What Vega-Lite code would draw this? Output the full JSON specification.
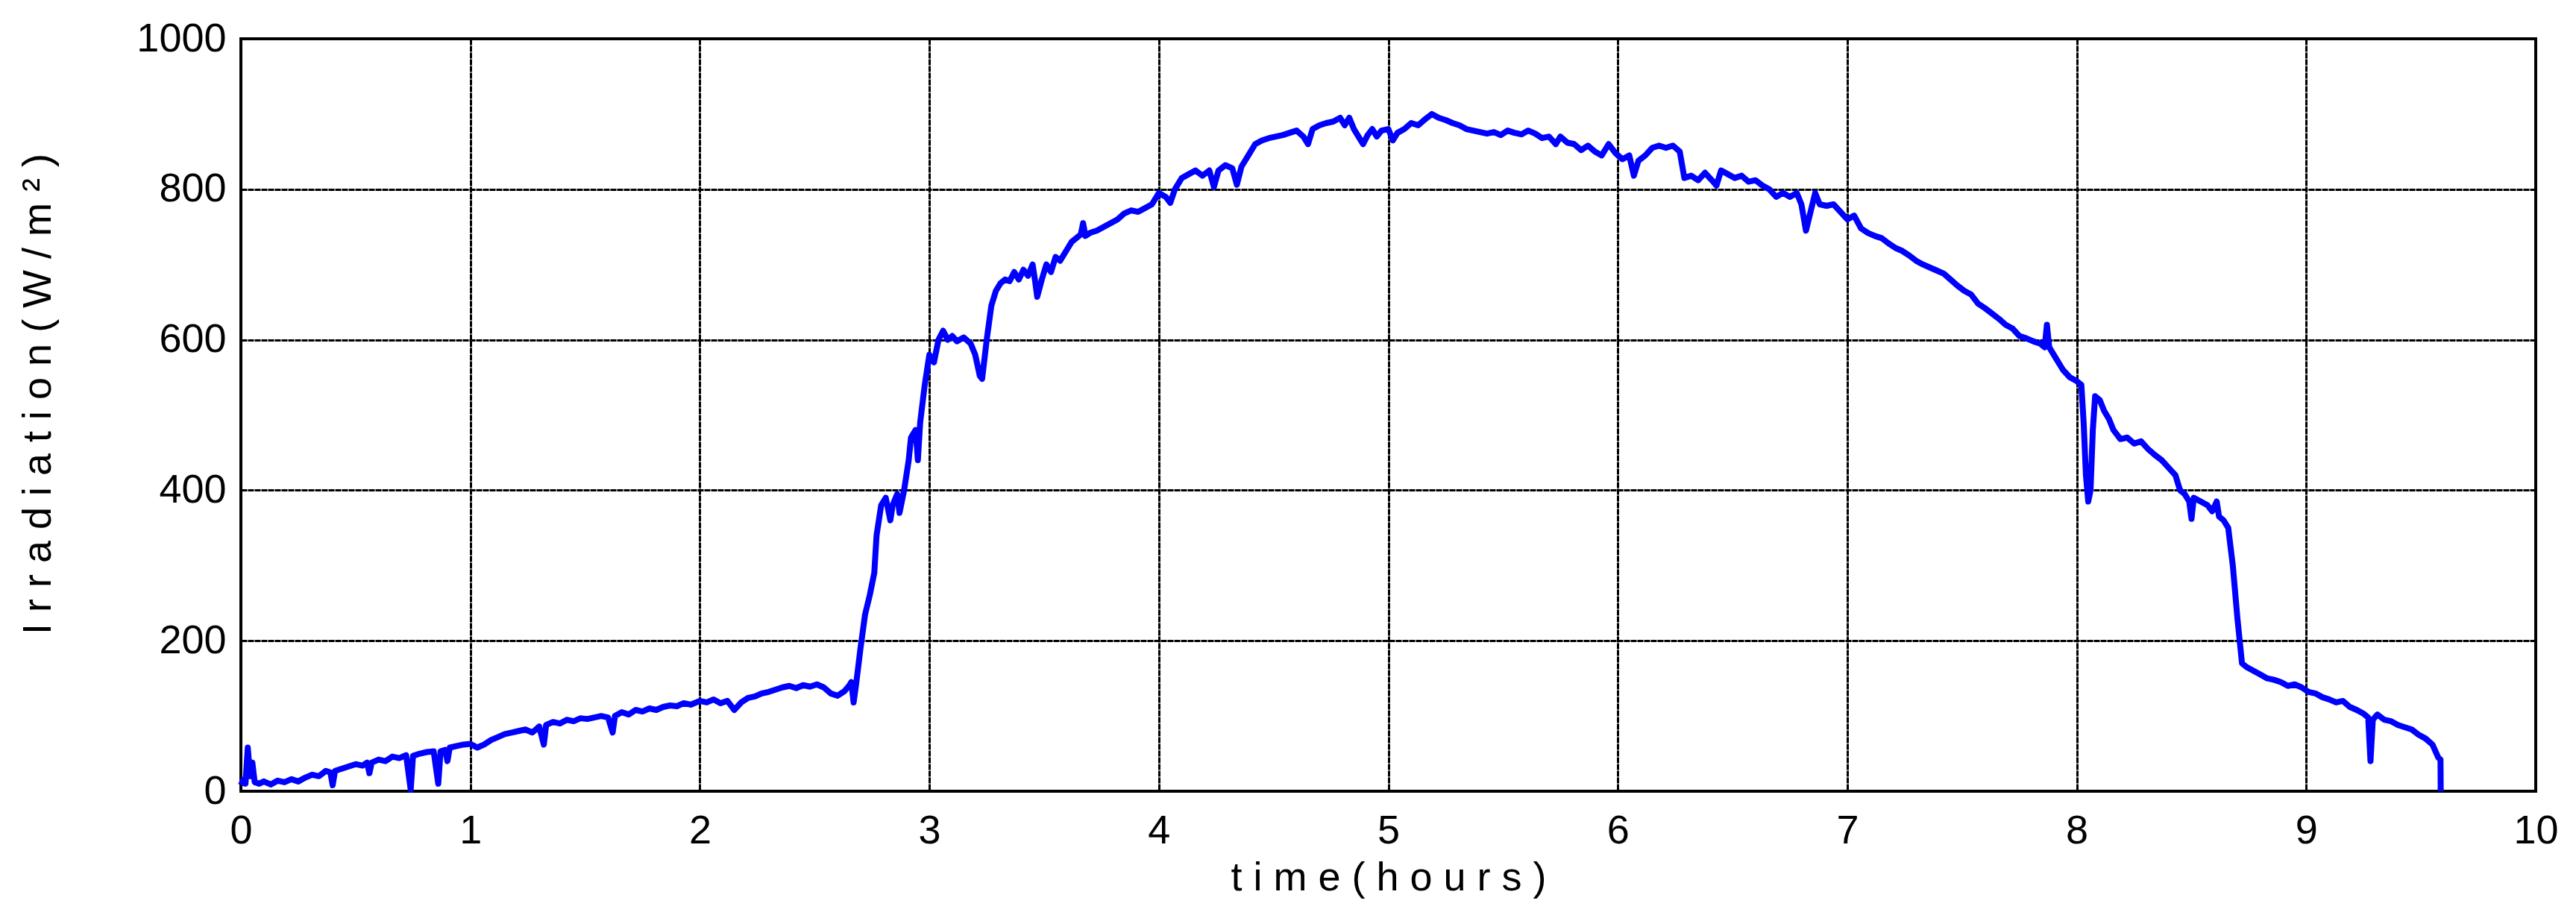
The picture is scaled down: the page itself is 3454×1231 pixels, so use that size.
{
  "$schema": "https://vega.github.io/schema/vega-lite/v6.json",
  "width": 3077,
  "height": 1009,
  "autosize": {"type": "none"},
  "padding": {"left": 323, "top": 52, "right": 54, "bottom": 170},
  "background": "white",
  "config": {
    "view": {"stroke": "black", "strokeWidth": 4},
    "font": "Liberation Sans"
  },
  "data": {
    "values": [
      {"t": 0.00, "v": 8}, {"t": 0.01, "v": 15}, {"t": 0.02, "v": 10}, {"t": 0.03, "v": 58}, {"t": 0.04, "v": 20},
      {"t": 0.05, "v": 38}, {"t": 0.06, "v": 12}, {"t": 0.08, "v": 10}, {"t": 0.10, "v": 13}, {"t": 0.13, "v": 9},
      {"t": 0.16, "v": 14}, {"t": 0.19, "v": 12}, {"t": 0.22, "v": 16}, {"t": 0.25, "v": 13}, {"t": 0.28, "v": 18},
      {"t": 0.31, "v": 22}, {"t": 0.34, "v": 20}, {"t": 0.37, "v": 27}, {"t": 0.39, "v": 25}, {"t": 0.40, "v": 8},
      {"t": 0.41, "v": 27}, {"t": 0.44, "v": 30}, {"t": 0.47, "v": 33}, {"t": 0.50, "v": 36}, {"t": 0.53, "v": 34},
      {"t": 0.55, "v": 38}, {"t": 0.56, "v": 24}, {"t": 0.57, "v": 38}, {"t": 0.60, "v": 42}, {"t": 0.63, "v": 40},
      {"t": 0.66, "v": 46}, {"t": 0.69, "v": 44}, {"t": 0.72, "v": 48}, {"t": 0.74, "v": 2}, {"t": 0.75, "v": 47},
      {"t": 0.78, "v": 50}, {"t": 0.81, "v": 52}, {"t": 0.84, "v": 53}, {"t": 0.86, "v": 10}, {"t": 0.87, "v": 53},
      {"t": 0.89, "v": 55}, {"t": 0.90, "v": 40}, {"t": 0.91, "v": 58}, {"t": 0.94, "v": 60}, {"t": 0.97, "v": 62},
      {"t": 1.00, "v": 63}, {"t": 1.03, "v": 58}, {"t": 1.06, "v": 62}, {"t": 1.09, "v": 68}, {"t": 1.12, "v": 72},
      {"t": 1.15, "v": 76}, {"t": 1.18, "v": 78}, {"t": 1.21, "v": 80}, {"t": 1.24, "v": 82}, {"t": 1.27, "v": 78},
      {"t": 1.30, "v": 86}, {"t": 1.32, "v": 62}, {"t": 1.33, "v": 88}, {"t": 1.36, "v": 92}, {"t": 1.39, "v": 90},
      {"t": 1.42, "v": 95}, {"t": 1.45, "v": 93}, {"t": 1.48, "v": 97}, {"t": 1.51, "v": 96}, {"t": 1.54, "v": 98},
      {"t": 1.57, "v": 100}, {"t": 1.60, "v": 98}, {"t": 1.62, "v": 78}, {"t": 1.63, "v": 100}, {"t": 1.66, "v": 105},
      {"t": 1.69, "v": 102}, {"t": 1.72, "v": 108}, {"t": 1.75, "v": 106}, {"t": 1.78, "v": 110}, {"t": 1.81, "v": 108},
      {"t": 1.84, "v": 112}, {"t": 1.87, "v": 114}, {"t": 1.90, "v": 113}, {"t": 1.93, "v": 117}, {"t": 1.96, "v": 115},
      {"t": 2.00, "v": 120}, {"t": 2.03, "v": 118}, {"t": 2.06, "v": 122}, {"t": 2.09, "v": 117}, {"t": 2.12, "v": 120},
      {"t": 2.15, "v": 108}, {"t": 2.18, "v": 118}, {"t": 2.21, "v": 124}, {"t": 2.24, "v": 126}, {"t": 2.27, "v": 130},
      {"t": 2.30, "v": 132}, {"t": 2.33, "v": 135}, {"t": 2.36, "v": 138}, {"t": 2.39, "v": 140}, {"t": 2.42, "v": 137},
      {"t": 2.45, "v": 141}, {"t": 2.48, "v": 139}, {"t": 2.51, "v": 142}, {"t": 2.54, "v": 138}, {"t": 2.57, "v": 130},
      {"t": 2.60, "v": 127}, {"t": 2.63, "v": 133}, {"t": 2.65, "v": 140}, {"t": 2.66, "v": 145}, {"t": 2.67, "v": 118},
      {"t": 2.68, "v": 140}, {"t": 2.70, "v": 190}, {"t": 2.72, "v": 235}, {"t": 2.74, "v": 260}, {"t": 2.76, "v": 290},
      {"t": 2.77, "v": 340}, {"t": 2.79, "v": 380}, {"t": 2.81, "v": 390}, {"t": 2.83, "v": 360}, {"t": 2.84, "v": 380},
      {"t": 2.86, "v": 395}, {"t": 2.87, "v": 370}, {"t": 2.89, "v": 400}, {"t": 2.91, "v": 440}, {"t": 2.92, "v": 470},
      {"t": 2.94, "v": 480}, {"t": 2.95, "v": 440}, {"t": 2.96, "v": 490}, {"t": 2.98, "v": 540}, {"t": 3.00, "v": 580},
      {"t": 3.02, "v": 570}, {"t": 3.04, "v": 600}, {"t": 3.06, "v": 612}, {"t": 3.08, "v": 600}, {"t": 3.10, "v": 605},
      {"t": 3.12, "v": 598}, {"t": 3.15, "v": 603}, {"t": 3.18, "v": 595}, {"t": 3.20, "v": 580}, {"t": 3.22, "v": 552},
      {"t": 3.23, "v": 548}, {"t": 3.25, "v": 600}, {"t": 3.27, "v": 645}, {"t": 3.29, "v": 665}, {"t": 3.31, "v": 675},
      {"t": 3.33, "v": 680}, {"t": 3.35, "v": 678}, {"t": 3.37, "v": 690}, {"t": 3.39, "v": 680}, {"t": 3.41, "v": 693},
      {"t": 3.43, "v": 685}, {"t": 3.45, "v": 700}, {"t": 3.46, "v": 680}, {"t": 3.47, "v": 657}, {"t": 3.49, "v": 680},
      {"t": 3.51, "v": 700}, {"t": 3.53, "v": 690}, {"t": 3.55, "v": 710}, {"t": 3.57, "v": 705}, {"t": 3.60, "v": 720},
      {"t": 3.62, "v": 730}, {"t": 3.64, "v": 735}, {"t": 3.66, "v": 740}, {"t": 3.67, "v": 755}, {"t": 3.68, "v": 738},
      {"t": 3.70, "v": 742}, {"t": 3.73, "v": 745}, {"t": 3.76, "v": 750}, {"t": 3.79, "v": 755}, {"t": 3.82, "v": 760},
      {"t": 3.85, "v": 768}, {"t": 3.88, "v": 772}, {"t": 3.91, "v": 770}, {"t": 3.94, "v": 775}, {"t": 3.97, "v": 780},
      {"t": 4.00, "v": 795}, {"t": 4.03, "v": 790}, {"t": 4.05, "v": 782}, {"t": 4.07, "v": 800}, {"t": 4.10, "v": 815},
      {"t": 4.13, "v": 820}, {"t": 4.16, "v": 825}, {"t": 4.19, "v": 818}, {"t": 4.22, "v": 825}, {"t": 4.24, "v": 803},
      {"t": 4.26, "v": 825}, {"t": 4.29, "v": 832}, {"t": 4.32, "v": 828}, {"t": 4.34, "v": 806}, {"t": 4.36, "v": 830},
      {"t": 4.39, "v": 845}, {"t": 4.42, "v": 860}, {"t": 4.45, "v": 865}, {"t": 4.48, "v": 868}, {"t": 4.51, "v": 870},
      {"t": 4.54, "v": 872}, {"t": 4.57, "v": 875}, {"t": 4.60, "v": 878}, {"t": 4.63, "v": 870}, {"t": 4.65, "v": 860},
      {"t": 4.67, "v": 880}, {"t": 4.70, "v": 885}, {"t": 4.73, "v": 888}, {"t": 4.76, "v": 890}, {"t": 4.79, "v": 895},
      {"t": 4.81, "v": 885}, {"t": 4.83, "v": 895}, {"t": 4.85, "v": 880}, {"t": 4.87, "v": 870}, {"t": 4.89, "v": 860},
      {"t": 4.91, "v": 872}, {"t": 4.93, "v": 880}, {"t": 4.95, "v": 870}, {"t": 4.97, "v": 878}, {"t": 5.00, "v": 880},
      {"t": 5.02, "v": 865}, {"t": 5.04, "v": 875}, {"t": 5.07, "v": 880}, {"t": 5.10, "v": 888}, {"t": 5.13, "v": 885},
      {"t": 5.16, "v": 893}, {"t": 5.19, "v": 900}, {"t": 5.22, "v": 895}, {"t": 5.25, "v": 892}, {"t": 5.28, "v": 888},
      {"t": 5.31, "v": 885}, {"t": 5.34, "v": 880}, {"t": 5.37, "v": 878}, {"t": 5.40, "v": 876}, {"t": 5.43, "v": 874},
      {"t": 5.46, "v": 876}, {"t": 5.49, "v": 872}, {"t": 5.52, "v": 878}, {"t": 5.55, "v": 875}, {"t": 5.58, "v": 873},
      {"t": 5.61, "v": 878}, {"t": 5.64, "v": 874}, {"t": 5.67, "v": 868}, {"t": 5.70, "v": 870}, {"t": 5.73, "v": 860},
      {"t": 5.75, "v": 870}, {"t": 5.78, "v": 862}, {"t": 5.81, "v": 860}, {"t": 5.84, "v": 852}, {"t": 5.87, "v": 858},
      {"t": 5.90, "v": 850}, {"t": 5.93, "v": 845}, {"t": 5.96, "v": 860}, {"t": 5.99, "v": 848}, {"t": 6.02, "v": 840},
      {"t": 6.05, "v": 845}, {"t": 6.07, "v": 818}, {"t": 6.09, "v": 838}, {"t": 6.12, "v": 845}, {"t": 6.15, "v": 855},
      {"t": 6.18, "v": 858}, {"t": 6.21, "v": 855}, {"t": 6.24, "v": 858}, {"t": 6.27, "v": 850}, {"t": 6.29, "v": 815},
      {"t": 6.32, "v": 818}, {"t": 6.35, "v": 812}, {"t": 6.38, "v": 822}, {"t": 6.41, "v": 812}, {"t": 6.43, "v": 805},
      {"t": 6.45, "v": 825}, {"t": 6.48, "v": 820}, {"t": 6.51, "v": 815}, {"t": 6.54, "v": 818}, {"t": 6.57, "v": 810},
      {"t": 6.60, "v": 812}, {"t": 6.63, "v": 805}, {"t": 6.66, "v": 800}, {"t": 6.69, "v": 790}, {"t": 6.72, "v": 795},
      {"t": 6.75, "v": 790}, {"t": 6.78, "v": 795}, {"t": 6.80, "v": 780}, {"t": 6.82, "v": 745}, {"t": 6.84, "v": 770},
      {"t": 6.86, "v": 795}, {"t": 6.88, "v": 780}, {"t": 6.91, "v": 778}, {"t": 6.94, "v": 780}, {"t": 6.97, "v": 770},
      {"t": 7.00, "v": 760}, {"t": 7.03, "v": 765}, {"t": 7.06, "v": 748}, {"t": 7.09, "v": 742}, {"t": 7.12, "v": 738},
      {"t": 7.15, "v": 735}, {"t": 7.18, "v": 728}, {"t": 7.21, "v": 722}, {"t": 7.24, "v": 718}, {"t": 7.27, "v": 712},
      {"t": 7.30, "v": 705}, {"t": 7.33, "v": 700}, {"t": 7.36, "v": 696}, {"t": 7.39, "v": 692}, {"t": 7.42, "v": 688},
      {"t": 7.45, "v": 680}, {"t": 7.48, "v": 672}, {"t": 7.51, "v": 665}, {"t": 7.54, "v": 660}, {"t": 7.57, "v": 648},
      {"t": 7.60, "v": 642}, {"t": 7.63, "v": 635}, {"t": 7.66, "v": 628}, {"t": 7.69, "v": 620}, {"t": 7.72, "v": 615},
      {"t": 7.75, "v": 605}, {"t": 7.78, "v": 602}, {"t": 7.81, "v": 598}, {"t": 7.84, "v": 595}, {"t": 7.86, "v": 590},
      {"t": 7.87, "v": 620}, {"t": 7.88, "v": 590}, {"t": 7.91, "v": 575}, {"t": 7.94, "v": 560}, {"t": 7.97, "v": 550},
      {"t": 8.00, "v": 545}, {"t": 8.02, "v": 540}, {"t": 8.03, "v": 490}, {"t": 8.04, "v": 420}, {"t": 8.05, "v": 385},
      {"t": 8.06, "v": 400}, {"t": 8.07, "v": 480}, {"t": 8.08, "v": 525}, {"t": 8.10, "v": 520}, {"t": 8.12, "v": 505},
      {"t": 8.14, "v": 495}, {"t": 8.16, "v": 480}, {"t": 8.19, "v": 468}, {"t": 8.22, "v": 470}, {"t": 8.25, "v": 462},
      {"t": 8.28, "v": 465}, {"t": 8.31, "v": 455}, {"t": 8.34, "v": 447}, {"t": 8.37, "v": 440}, {"t": 8.40, "v": 430},
      {"t": 8.43, "v": 420}, {"t": 8.45, "v": 400}, {"t": 8.47, "v": 395}, {"t": 8.49, "v": 385}, {"t": 8.50, "v": 362},
      {"t": 8.51, "v": 390}, {"t": 8.54, "v": 385}, {"t": 8.57, "v": 380}, {"t": 8.59, "v": 372}, {"t": 8.61, "v": 385},
      {"t": 8.62, "v": 365}, {"t": 8.64, "v": 360}, {"t": 8.66, "v": 350}, {"t": 8.68, "v": 300}, {"t": 8.70, "v": 230},
      {"t": 8.72, "v": 170}, {"t": 8.74, "v": 165}, {"t": 8.77, "v": 160}, {"t": 8.80, "v": 155}, {"t": 8.83, "v": 150},
      {"t": 8.86, "v": 148}, {"t": 8.89, "v": 145}, {"t": 8.92, "v": 140}, {"t": 8.95, "v": 142}, {"t": 8.98, "v": 138},
      {"t": 9.01, "v": 132}, {"t": 9.04, "v": 130}, {"t": 9.07, "v": 125}, {"t": 9.10, "v": 122}, {"t": 9.13, "v": 118},
      {"t": 9.16, "v": 120}, {"t": 9.19, "v": 112}, {"t": 9.22, "v": 108}, {"t": 9.25, "v": 103}, {"t": 9.27, "v": 98},
      {"t": 9.28, "v": 40}, {"t": 9.29, "v": 95}, {"t": 9.31, "v": 102}, {"t": 9.34, "v": 95}, {"t": 9.37, "v": 93},
      {"t": 9.40, "v": 88}, {"t": 9.43, "v": 85}, {"t": 9.46, "v": 82}, {"t": 9.49, "v": 75}, {"t": 9.52, "v": 70},
      {"t": 9.55, "v": 62}, {"t": 9.575, "v": 45}, {"t": 9.585, "v": 42}, {"t": 9.586, "v": 0}
    ]
  },
  "mark": {"type": "line", "color": "#0000FF", "strokeWidth": 8, "strokeJoin": "round", "strokeCap": "butt"},
  "encoding": {
    "x": {
      "field": "t",
      "type": "quantitative",
      "scale": {"domain": [0, 10], "nice": false, "zero": false},
      "axis": {
        "title": "t i m e ( h o u r s )",
        "values": [0, 1, 2, 3, 4, 5, 6, 7, 8, 9, 10],
        "format": "d",
        "grid": true,
        "gridColor": "black",
        "gridWidth": 3,
        "gridDash": [8, 1],
        "gridOpacity": 1,
        "ticks": false,
        "tickSize": 0,
        "domain": false,
        "labelFlush": false,
        "labelOverlap": false,
        "labelFont": "Liberation Sans",
        "labelFontSize": 54,
        "labelColor": "black",
        "labelPadding": 26,
        "labelBaseline": "top",
        "titleFont": "Liberation Sans",
        "titleFontSize": 54,
        "titleFontWeight": "normal",
        "titleColor": "black",
        "titleBaseline": "alphabetic",
        "titleY": 132
      }
    },
    "y": {
      "field": "v",
      "type": "quantitative",
      "scale": {"domain": [0, 1000], "nice": false},
      "axis": {
        "title": "I r r a d i a t i o n ( W / m ² )",
        "values": [0, 200, 400, 600, 800, 1000],
        "format": "d",
        "grid": true,
        "gridColor": "black",
        "gridWidth": 3,
        "gridDash": [8, 1],
        "gridOpacity": 1,
        "ticks": false,
        "tickSize": 0,
        "domain": false,
        "labelFlush": false,
        "labelOverlap": false,
        "labelFont": "Liberation Sans",
        "labelFontSize": 54,
        "labelColor": "black",
        "labelPadding": 20,
        "titleFont": "Liberation Sans",
        "titleFontSize": 54,
        "titleFontWeight": "normal",
        "titleColor": "black",
        "titleBaseline": "alphabetic",
        "titleAngle": -90,
        "titleX": -256,
        "titleY": 476
      }
    }
  }
}
